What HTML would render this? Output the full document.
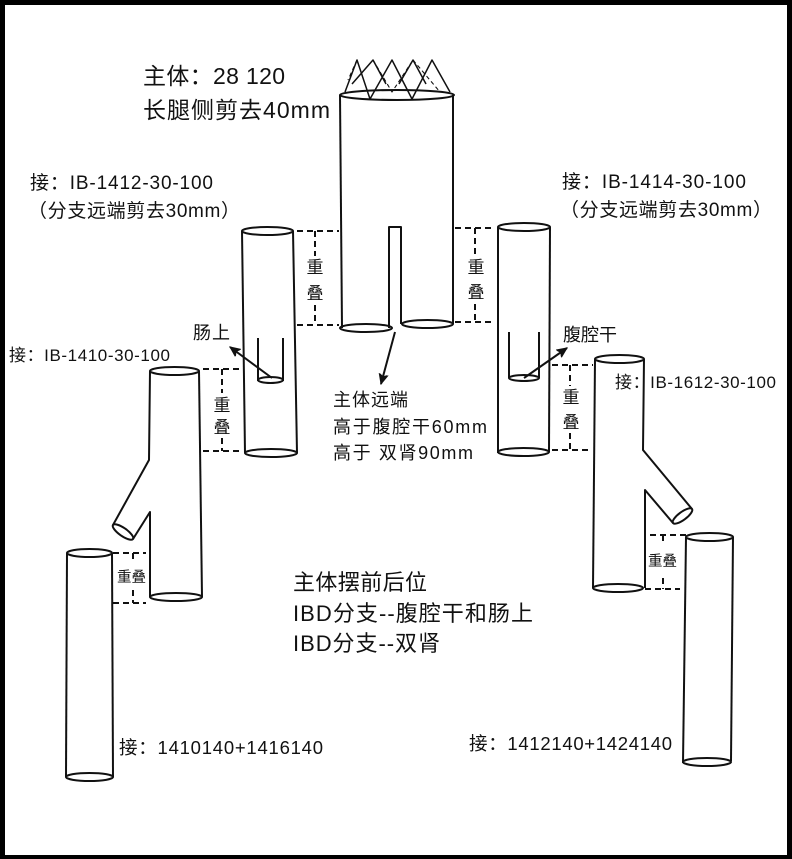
<!DOCTYPE html>
<html>
<head>
<meta charset="utf-8">
<style>
html,body{margin:0;padding:0;background:#000;}
svg{display:block;}
text{font-family:"Liberation Sans","Noto Sans CJK SC",sans-serif;fill:#111;}
</style>
</head>
<body>
<svg width="792" height="859" viewBox="0 0 792 859" xmlns="http://www.w3.org/2000/svg">
<defs>
<marker id="ah" markerWidth="12" markerHeight="10" refX="10" refY="5" orient="auto" markerUnits="userSpaceOnUse">
<path d="M0,0.5 L10,5 L0,9.5 L2.5,5 Z" fill="#111" stroke="#111" stroke-width="1"/>
</marker>
</defs>
<rect x="0" y="0" width="792" height="859" fill="#000"/>
<rect x="5" y="5" width="782" height="850" fill="#fff"/>

<g fill="none" stroke="#111" stroke-width="2" stroke-linejoin="round">
<!-- stent crown -->
<g stroke-width="1.5">
<polyline points="345,92 357,60 370,99 392,60 412,99 432,60 450,92"/>
<polyline points="352,84 373,60 386,84"/>
<polyline points="399,84 413,60 426,84"/>
<polyline points="373,60 392,92 413,60" stroke-dasharray="4,3" stroke-width="1.1"/>
<polyline points="413,60 440,92" stroke-dasharray="4,3" stroke-width="1.1"/>
<polyline points="357,60 348,80" stroke-dasharray="4,3" stroke-width="1.1"/>
</g>
<!-- main body -->
<ellipse cx="397" cy="95" rx="57" ry="5"/>
<path d="M340,95 L342,328"/>
<path d="M453,95 L453,324"/>
<path d="M389,328 L389,227 L401,227 L401,324"/>
<ellipse cx="366" cy="328" rx="26" ry="4"/>
<ellipse cx="427.5" cy="324" rx="25.5" ry="4"/>

<!-- left upper tube -->
<ellipse cx="267.5" cy="231" rx="25.5" ry="4"/>
<path d="M242,231 L245,453"/>
<path d="M293,231 L297,453"/>
<ellipse cx="271" cy="453" rx="26" ry="4"/>
<path d="M258,338 L258,381 M283,338 L283,381"/>
<ellipse cx="270.5" cy="380" rx="12.5" ry="3"/>

<!-- right upper tube -->
<ellipse cx="524" cy="227" rx="26" ry="4"/>
<path d="M498,227 L498,453"/>
<path d="M550,227 L549,452"/>
<ellipse cx="523.5" cy="452" rx="25.5" ry="4"/>
<path d="M509,332 L509,378 M539,332 L539,378"/>
<ellipse cx="524" cy="378" rx="15" ry="3"/>

<!-- left middle tube -->
<ellipse cx="174.5" cy="371" rx="24.5" ry="4"/>
<path d="M199,371 L202,597"/>
<path d="M150,371 L149,460 L113,525"/>
<ellipse cx="123" cy="532" rx="12.2" ry="4" transform="rotate(35 123 532)"/>
<path d="M133,539 L150,512 L150,597"/>
<ellipse cx="176" cy="597" rx="26" ry="4"/>

<!-- right middle tube -->
<ellipse cx="619.5" cy="359" rx="24.5" ry="4"/>
<path d="M595,359 L593,588"/>
<path d="M644,359 L643,450 L692,509"/>
<ellipse cx="682.5" cy="516" rx="11.8" ry="4" transform="rotate(-36.4 682.5 516)"/>
<path d="M673,523 L645,490 L645,588"/>
<ellipse cx="618" cy="588" rx="25" ry="4"/>

<!-- right lower tube -->
<ellipse cx="709.5" cy="537" rx="23.5" ry="4"/>
<path d="M686,537 L683,763"/>
<path d="M733,537 L731,761"/>
<ellipse cx="707" cy="762" rx="24" ry="4"/>

<!-- left lower tube -->
<ellipse cx="89.5" cy="553" rx="22.5" ry="4"/>
<path d="M67,553 L66,777"/>
<path d="M112,553 L113,777"/>
<ellipse cx="89.5" cy="777" rx="23.5" ry="4"/>

<!-- arrows -->
<path d="M272,378 L230,347" marker-end="url(#ah)"/>
<path d="M524,378 L567,348" marker-end="url(#ah)"/>
<path d="M395,332 L381,384" marker-end="url(#ah)"/>
</g>

<!-- dashed brackets -->
<g fill="none" stroke="#111" stroke-width="2" stroke-dasharray="6,4">
<path d="M297,231 L339,231 M297,325 L339,325 M315,231 L315,256 M315,305 L315,325"/>
<path d="M455,228 L495,228 M455,322 L495,322 M475,228 L475,255 M475,304 L475,322"/>
<path d="M203,369 L242,369 M203,451 L243,451 M222,369 L222,393 M222,438 L222,451"/>
<path d="M552,365 L593,365 M552,450 L592,450 M570,365 L570,386 M570,433 L570,450"/>
<path d="M113,553 L146,553 M113,603 L146,603 M133,553 L133,563 M133,590 L133,603"/>
<path d="M650,535 L686,535 M645,589 L680,589 M663,535 L663,545 M663,578 L663,589"/>
</g>

<!-- overlap labels -->
<g font-size="17" text-anchor="middle">
<text x="315" y="273">重</text><text x="315" y="299">叠</text>
<text x="476" y="273">重</text><text x="476" y="298">叠</text>
<text x="222" y="411">重</text><text x="222" y="433">叠</text>
<text x="571" y="403">重</text><text x="571" y="428">叠</text>
</g>
<g font-size="14.5">
<text x="117" y="582" textLength="29" lengthAdjust="spacing">重叠</text>
<text x="648" y="566" textLength="29" lengthAdjust="spacing">重叠</text>
</g>

<!-- labels -->
<text x="143" y="84" font-size="23" textLength="142" lengthAdjust="spacing">主体：28 120</text>
<text x="143" y="118" font-size="23" textLength="187" lengthAdjust="spacing">长腿侧剪去40mm</text>

<text x="30" y="189" font-size="19" textLength="183" lengthAdjust="spacing">接：IB-1412-30-100</text>
<text x="28" y="217" font-size="19" textLength="212" lengthAdjust="spacing">（分支远端剪去30mm）</text>
<text x="562" y="188" font-size="19" textLength="184" lengthAdjust="spacing">接：IB-1414-30-100</text>
<text x="560" y="216" font-size="19" textLength="212" lengthAdjust="spacing">（分支远端剪去30mm）</text>

<text x="193" y="339" font-size="18" textLength="37" lengthAdjust="spacing">肠上</text>
<text x="563" y="341" font-size="18" textLength="54" lengthAdjust="spacing">腹腔干</text>

<text x="9" y="361" font-size="17" textLength="161" lengthAdjust="spacing">接：IB-1410-30-100</text>
<text x="615" y="388" font-size="17" textLength="161" lengthAdjust="spacing">接：IB-1612-30-100</text>

<text x="333" y="406" font-size="18" textLength="75" lengthAdjust="spacing">主体远端</text>
<text x="333" y="433" font-size="18" textLength="154" lengthAdjust="spacing">高于腹腔干60mm</text>
<text x="333" y="459" font-size="18" textLength="140" lengthAdjust="spacing">高于 双肾90mm</text>

<text x="293" y="590" font-size="22" textLength="134" lengthAdjust="spacing">主体摆前后位</text>
<text x="293" y="621" font-size="22" textLength="240" lengthAdjust="spacing">IBD分支--腹腔干和肠上</text>
<text x="293" y="651" font-size="22" textLength="147" lengthAdjust="spacing">IBD分支--双肾</text>

<text x="119" y="754" font-size="18.5" textLength="204" lengthAdjust="spacing">接：1410140+1416140</text>
<text x="469" y="750" font-size="18.5" textLength="203" lengthAdjust="spacing">接：1412140+1424140</text>
</svg>
</body>
</html>
